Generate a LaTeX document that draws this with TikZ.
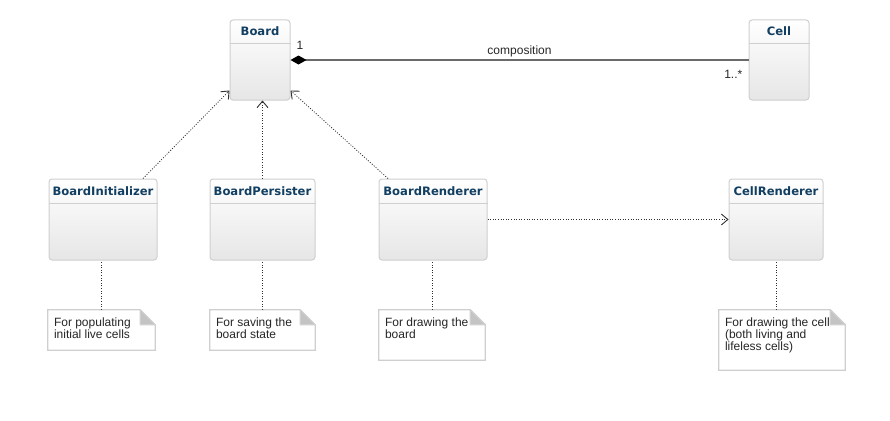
\documentclass[tikz,border=0pt]{standalone}
\usepackage{fontspec}
\setmainfont{Liberation Sans}
\newfontfamily\headfont{DejaVu Sans}
\usetikzlibrary{arrows.meta,calc,positioning}
\definecolor{Frame}{HTML}{CFCFCF}
\definecolor{Shade}{HTML}{E6E6E6}
\definecolor{Ink}{HTML}{123F61}
\definecolor{Fold}{HTML}{C4C4C4}
\definecolor{Wire}{HTML}{6A6A6A}
\definecolor{Dots}{HTML}{303030}

\begin{document}
\begin{tikzpicture}[x=1pt, y=-1pt,
    classbox/.style={draw=Frame, line width=1pt, rounded corners=3pt, top color=white, bottom color=Shade, minimum height=81pt},
    classname/.style={font=\headfont\bfseries\fontsize{11.6}{12}\selectfont, text=Ink, inner sep=0pt},
    sepline/.style={draw=Frame, line width=1pt},
    noteframe/.style={draw=Frame, fill=white, line width=1.2pt},
    notetext/.style={font=\fontsize{12}{11.8}\selectfont, align=left, inner sep=0pt, text=black!85},
    dep/.style={-{Straight Barb[length=6.5pt,width=11pt,line width=0.9pt]}, draw=Dots, line width=0.8pt, dash pattern=on 1pt off 1.6pt},
    noteline/.style={draw=Dots, line width=0.8pt, dash pattern=on 1pt off 1.6pt},
    lbl/.style={font=\fontsize{12}{12}\selectfont, inner sep=0pt, text=black!85}]
    \useasboundingbox (0,0) rectangle (890,420);

    \node[classbox, minimum width=60pt, minimum height=80pt] (board) at (260,60) {};
    \node[classname] (boardname) at ([yshift=-12pt]board.north) {Board};
    \draw[sepline] ([yshift=-24pt]board.north west) -- ([yshift=-24pt]board.north east);

    \node[classbox, minimum width=60pt, minimum height=80pt] (cell) at (779,60) {};
    \node[classname] (cellname) at ([yshift=-12pt]cell.north) {Cell};
    \draw[sepline] ([yshift=-24pt]cell.north west) -- ([yshift=-24pt]cell.north east);

    \node[classbox, minimum width=108pt] (init) at (103,219.5) {};
    \node[classname] (initname) at ([yshift=-12.5pt]init.north) {BoardInitializer};
    \draw[sepline] ([yshift=-25pt]init.north west) -- ([yshift=-25pt]init.north east);

    \node[classbox, minimum width=105pt] (persist) at (262.5,219.5) {};
    \node[classname] (persistname) at ([yshift=-12.5pt]persist.north) {BoardPersister};
    \draw[sepline] ([yshift=-25pt]persist.north west) -- ([yshift=-25pt]persist.north east);

    \node[classbox, minimum width=108pt] (render) at (433,219.5) {};
    \node[classname] (rendername) at ([yshift=-12.5pt]render.north) {BoardRenderer};
    \draw[sepline] ([yshift=-25pt]render.north west) -- ([yshift=-25pt]render.north east);

    \node[classbox, minimum width=94pt] (cellrender) at (776,219.5) {};
    \node[classname] (cellrendername) at ([yshift=-12.5pt]cellrender.north) {CellRenderer};
    \draw[sepline] ([yshift=-25pt]cellrender.north west) -- ([yshift=-25pt]cellrender.north east);

    \node[minimum width=107pt, minimum height=40pt] (initnote) at (101.5,330) {};
    \node[minimum width=105pt, minimum height=40pt] (persistnote) at (262.5,330) {};
    \node[minimum width=106pt, minimum height=50pt] (rendernote) at (432,335) {};
    \node[minimum width=126pt, minimum height=60pt] (cellnote) at (782,340) {};
    \foreach \n in {initnote,persistnote,rendernote,cellnote} {
      \draw[noteframe] (\n.south west) -- (\n.north west) -- ([xshift=-15pt]\n.north east) -- ([yshift=-15pt]\n.north east) -- (\n.south east) -- cycle;
      \filldraw[Fold, draw=Frame, line width=1.2pt, line join=round] ([xshift=-15pt]\n.north east) -- ([xshift=-15pt,yshift=-15pt]\n.north east) -- ([yshift=-15pt]\n.north east) -- cycle;
    }
    \node[notetext, anchor=north west] (inittext) at ([xshift=6pt,yshift=-8pt]initnote.north west) {For populating\\initial live cells};
    \node[notetext, anchor=north west] (persisttext) at ([xshift=6pt,yshift=-8pt]persistnote.north west) {For saving the\\board state};
    \node[notetext, anchor=north west] (rendertext) at ([xshift=6pt,yshift=-8pt]rendernote.north west) {For drawing the\\board};
    \node[notetext, anchor=north west] (celltext) at ([xshift=6pt,yshift=-8pt]cellnote.north west) {For drawing the cell\\(both living and\\lifeless cells)};

    \draw[noteline] (initnote.north) -- (initnote.north |- init.south);
    \draw[noteline] (persistnote.north) -- (persistnote.north |- persist.south);
    \draw[noteline] (rendernote.north) -- (rendernote.north |- render.south);
    \draw[noteline] (cellnote.north -| cellrender.south) -- (cellrender.south);

    \draw[dep] ([xshift=40pt]init.north) -- ([yshift=10pt]board.south west);
    \draw[dep] (persist.north) -- (persist.north |- board.south);
    \draw[dep] ([xshift=-45pt]render.north) -- ([yshift=10pt]board.south east);
    \draw[dep] (render.east) -- (cellrender.west);

    \draw[{Diamond[length=16pt,width=9pt,color=black]}-, draw=Wire, line width=1.5pt] (board.east) -- node[lbl, midway, anchor=base, yshift=5pt] (comp) {composition} (cell.west);
    \node[lbl, anchor=base west] (one) at ([xshift=6pt,yshift=11pt]board.east) {1};
    \node[lbl, anchor=base east] (many) at ([xshift=-6pt,yshift=-18pt]cell.west) {1..*};
  \end{tikzpicture}
\end{document}
